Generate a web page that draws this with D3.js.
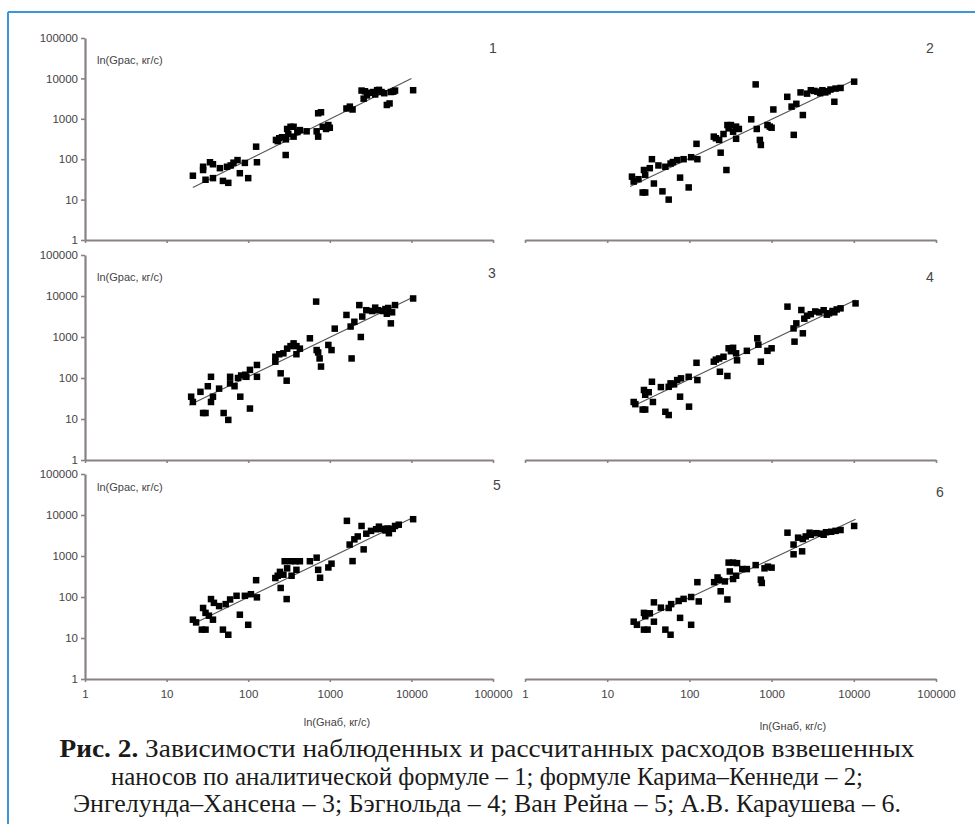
<!DOCTYPE html>
<html><head><meta charset="utf-8">
<script src="https://cdn.jsdelivr.net/npm/d3@7"></script>
<style>body{margin:0;background:#fff}svg{display:block}</style>
</head><body>
<svg id="c" width="975" height="824"></svg>
<script>
// ---- DATA ----
const tickValues = [1, 10, 100, 1000, 10000, 100000];
const panelNumbers = ["1", "2", "3", "4", "5", "6"];
const yAxisTitle = "ln(Gрас, кг/с)";
const xAxisTitle = "ln(Gнаб, кг/с)";
const captionLines = [
  ["Рис. 2.", " Зависимости наблюденных и рассчитанных расходов взвешенных"],
  ["", "наносов по аналитической формуле – 1; формуле Карима–Кеннеди – 2;"],
  ["", "Энгелунда–Хансена – 3; Бэгнольда – 4; Ван Рейна – 5; А.В. Караушева – 6."]
];
// points: [observed, calculated]
const points1 = [[21,39],[28,54],[28,65],[34,84],[37,75],[30,31],[37,34],[49,29],[57,26],[55,65],[61,70],[74,95],[79,45],[91,81],[100,34],[125,204],[128,84],[219,300],[240,330],[260,350],[290,310],[288,127],[330,635],[360,635],[360,362],[430,525],[520,490],[720,1370],[780,1450],[720,362],[690,490],[820,635],[960,700],[1000,600],[1600,1800],[1760,2000],[1900,1700],[2450,5000],[2600,3150],[2850,3800],[3100,4400],[3400,4600],[3800,5100],[4300,4600],[4650,4300],[5000,2200],[5400,2400],[5600,4600],[6300,5000],[10500,5100],[45,60],[66,82],[230,280],[310,420],[400,470],[900,560],[2700,4800],[3600,4000],[4000,5200],[6000,4700],[300,560]];
const points2 = [[20,37],[21,28],[28,54],[29,41],[27,15],[29,15],[35,100],[37,25],[47,16],[56,10],[51,65],[59,78],[71,95],[77,35],[85,100],[98,20],[105,112],[122,240],[125,100],[198,362],[230,300],[240,145],[282,54],[290,700],[320,700],[370,640],[340,480],[370,320],[400,560],[565,970],[640,7100],[660,560],[720,300],[740,225],[890,700],[950,640],[1000,600],[1050,1700],[1550,3500],[1750,2000],[1860,400],[2000,2350],[2250,4500],[2400,1240],[3000,5100],[3300,4900],[3600,4700],[4150,5100],[4800,4800],[5200,5300],[6000,5600],[6900,5800],[5800,2640],[10100,8300],[24,32],[33,60],[42,70],[63,85],[210,330],[260,420],[300,580],[2700,4200],[3900,4300],[4500,4500]];
const points3 = [[20,35],[21,26],[26,46],[28,14],[30,14],[32,63],[35,107],[35,26],[37,35],[50,14],[57,9.5],[60,74],[60,107],[68,63],[75,100],[82,115],[92,120],[95,107],[80,35],[105,18],[105,158],[128,208],[128,107],[215,330],[215,250],[250,130],[296,86],[270,400],[300,520],[330,600],[360,700],[390,600],[430,520],[390,380],[570,930],[680,7300],[690,480],[720,420],[750,300],[780,190],[960,640],[1050,480],[1150,1600],[1600,3450],[1800,1800],[1850,300],[2000,2350],[2300,6000],[2400,1000],[2500,3150],[2800,4500],[3300,4300],[3900,4500],[4500,4300],[5200,5100],[5600,2150],[5800,4000],[6300,6000],[10500,8700],[44,55],[240,380],[3600,5200],[4800,4800],[5000,3700]];
const points4 = [[21,26],[22,23],[28,51],[29,39],[27,17],[29,17],[35,81],[36,26],[51,15],[56,12.5],[56,61],[59,74],[71,89],[77,35],[79,98],[98,107],[99,20],[122,235],[125,89],[198,250],[230,300],[235,142],[290,112],[300,530],[340,545],[370,400],[380,270],[500,460],[670,930],[690,650],[740,250],[890,460],[1000,530],[1560,5500],[1850,1620],[1900,770],[2000,2150],[2300,4550],[2400,1230],[2500,2800],[3000,3600],[3400,4200],[3800,4000],[4300,4500],[5000,3800],[5500,4300],[6200,4700],[6900,5000],[10500,6600],[32,45],[45,60],[65,70],[210,280],[260,330],[320,450],[2700,3300],[4700,3500],[5800,4000]];
const points5 = [[21,28],[23,24],[28,54],[30,41],[27,16],[30,16],[35,89],[37,28],[38,72],[49,16],[57,12],[53,67],[60,87],[72,107],[79,37],[91,107],[100,21],[108,117],[125,257],[128,98],[215,290],[230,330],[245,410],[250,166],[296,89],[280,745],[330,745],[380,745],[430,745],[340,330],[390,460],[570,745],[690,910],[720,460],[760,295],[960,525],[1050,650],[1620,7200],[1750,1900],[1900,750],[2000,2550],[2450,5400],[2600,1450],[2800,3500],[3200,4100],[3700,4500],[4300,4600],[4800,4200],[5100,4700],[5300,3600],[5900,4600],[6300,5400],[10500,7900],[33,35],[44,60],[270,350],[300,500],[2200,3000],[4000,5200],[7000,5800]];
const points6 = [[21,25],[23,21],[28,41],[29,34],[28,16],[31,16],[37,25],[37,74],[51,16],[59,12],[56,54],[60,67],[77,31],[74,80],[85,90],[105,100],[105,21],[125,230],[130,78],[200,230],[230,260],[270,240],[240,138],[290,87],[300,690],[340,690],[380,670],[370,330],[340,275],[440,480],[500,480],[640,600],[740,265],[760,220],[820,500],[900,550],[1000,520],[1560,3700],[1850,1900],[1850,1100],[2350,1300],[2100,2800],[2600,3000],[3000,3300],[3500,3600],[4000,3500],[4600,3800],[5300,3900],[6000,4100],[6900,4300],[10100,5400],[33,40],[45,55],[220,300],[310,420],[2400,2600],[2900,3700],[4300,3300]];
// trend lines: [[x0,y0],[x1,y1]]
const trend1 = [[21,20],[10000,10000]];
const trend2 = [[19,21],[10000,9000]];
const trend3 = [[19,22],[10000,8900]];
const trend4 = [[22,22],[10500,8000]];
const trend5 = [[22,23],[10500,8700]];
const trend6 = [[22,23],[10500,7900]];

// ---- LAYOUT ----
const svg = d3.select("#c");
svg.append("line").attr("x1",8).attr("x2",975).attr("y1",12).attr("y2",12).attr("stroke","#3b97d8").attr("stroke-width",2);
svg.append("line").attr("x1",8).attr("x2",8).attr("y1",12).attr("y2",824).attr("stroke","#3b97d8").attr("stroke-width",2);

const cols = [{x0:85,x1:493},{x0:525,x1:936}];
const rows = [{top:38,bottom:240,lab:60},{top:255,bottom:460,lab:277},{top:474,bottom:679,lab:487}];
const numPos = [[493,48],[930,48],[492,273],[930,277],[497,485],[940,492]];
const allPoints = [points1,points2,points3,points4,points5,points6];
const allTrends = [trend1,trend2,trend3,trend4,trend5,trend6];
const axisColor = "#8a8282", textColor = "#444";
const fmt = d3.format("d");

allPoints.forEach((pts, i) => {
  const col = cols[i % 2], row = rows[Math.floor(i / 2)];
  const x = d3.scaleLog().domain([1, 1e5]).range([col.x0, col.x1]);
  const y = d3.scaleLog().domain([1, 1e5]).range([row.bottom, row.top]);
  const g = svg.append("g");
  const isBottom = Math.floor(i / 2) === 2;

  // x axis
  const xa = g.append("g").attr("transform", `translate(0,${row.bottom})`)
    .call(d3.axisBottom(x).tickValues(tickValues).tickSize(3).tickSizeOuter(0)
      .tickFormat(isBottom ? fmt : () => ""));
  xa.select(".domain").attr("stroke", axisColor).attr("stroke-width", 2.2);
  xa.selectAll(".tick line").attr("stroke", axisColor).attr("stroke-width", 1.6);
  xa.selectAll(".tick text").attr("fill", textColor).attr("font-family", "Arial, 'Liberation Sans', sans-serif")
    .attr("font-size", 11.5).attr("dy", "1.15em");

  if (i % 2 === 0) {
    const ya = g.append("g").attr("transform", `translate(${col.x0},0)`)
      .call(d3.axisLeft(y).tickValues(tickValues).tickSize(4).tickSizeOuter(0).tickFormat(fmt));
    ya.select(".domain").attr("stroke", axisColor).attr("stroke-width", 2.2);
    ya.selectAll(".tick line").attr("stroke", axisColor).attr("stroke-width", 1.6);
    ya.selectAll(".tick text").attr("fill", textColor).attr("font-family", "Arial, 'Liberation Sans', sans-serif")
      .attr("font-size", 11.5).attr("x", -7);
    g.append("text").attr("x", col.x0 + 12).attr("y", row.lab + 4).text(yAxisTitle)
      .attr("fill", textColor).attr("font-family", "Arial, 'Liberation Sans', sans-serif").attr("font-size", 11);
  }
  if (isBottom) {
    g.append("text").attr("x", i % 2 === 0 ? 337 : 793).attr("y", i % 2 === 0 ? 726 : 730)
      .attr("text-anchor", "middle").text(xAxisTitle)
      .attr("fill", textColor).attr("font-family", "Arial, 'Liberation Sans', sans-serif").attr("font-size", 11);
  }
  g.append("text").attr("x", numPos[i][0]).attr("y", numPos[i][1] + 5).attr("text-anchor", "middle")
    .text(panelNumbers[i]).attr("fill", textColor)
    .attr("font-family", "Arial, 'Liberation Sans', sans-serif").attr("font-size", 14);

  // trend line
  g.append("line").attr("x1", x(allTrends[i][0][0])).attr("y1", y(allTrends[i][0][1]))
    .attr("x2", x(allTrends[i][1][0])).attr("y2", y(allTrends[i][1][1]))
    .attr("stroke", "#555").attr("stroke-width", 1.1);

  // points
  const s = 6.5;
  g.selectAll("rect.p").data(pts).join("rect").attr("class", "p")
    .attr("x", d => x(d[0]) - s / 2).attr("y", d => y(d[1]) - s / 2)
    .attr("width", s).attr("height", s).attr("fill", "#000");
});

// caption
const cap = svg.append("g").attr("font-family", "'Liberation Serif', 'DejaVu Serif', serif").attr("font-size", 25).attr("fill", "#1a1a1a");
const capY = [757, 785, 812];
const capLen = [855, 752, 828];
captionLines.forEach((ln, k) => {
  const t = cap.append("text").attr("x", 487).attr("y", capY[k]).attr("text-anchor", "middle")
    .attr("textLength", capLen[k]).attr("lengthAdjust", "spacingAndGlyphs");
  if (ln[0]) t.append("tspan").attr("font-weight", "bold").text(ln[0]);
  t.append("tspan").text(ln[1]);
});
</script>
</body></html>
